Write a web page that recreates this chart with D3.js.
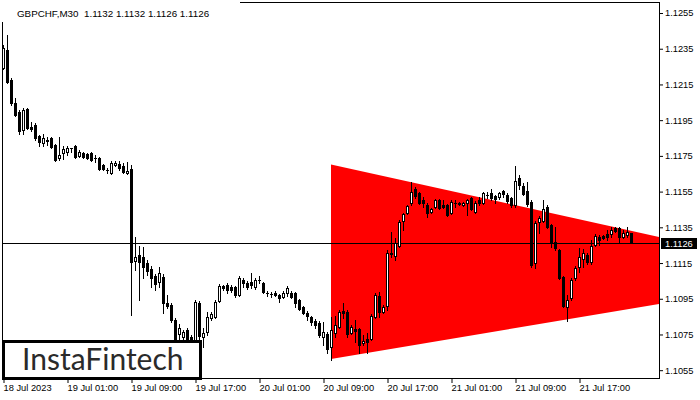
<!DOCTYPE html>
<html><head><meta charset="utf-8">
<script src="https://cdn.jsdelivr.net/npm/d3@7"></script>
<style>
body{margin:0;background:#fff;}
svg{display:block;font-family:"Liberation Sans",Arial,sans-serif;}
</style>
</head><body>
<svg id="c" width="700" height="400"></svg>
<script>
const symbol = "GBPCHF,M30";
const brand = "InstaFintech";
const timeLabels = ["18 Jul 2023","19 Jul 01:00","19 Jul 09:00","19 Jul 17:00","20 Jul 01:00","20 Jul 09:00","20 Jul 17:00","21 Jul 01:00","21 Jul 09:00","21 Jul 17:00"];
const labelBars = [0,16,32,48,64,80,96,112,128,144];
const priceTicks = [1.1055,1.1075,1.1095,1.1115,1.1135,1.1155,1.1175,1.1195,1.1215,1.1235,1.1255];

const opens = [
1.12242,1.12343,1.12175,1.12046,1.11996,1.11895,1.12013,1.11912,1.11923,1.11861,
1.11822,1.11839,1.11850,1.11811,1.11738,1.11766,1.11772,1.11794,1.11805,1.11749,
1.11766,1.11761,1.11766,1.11738,1.11738,1.11699,1.11671,1.11654,1.11699,1.11705,
1.11693,1.11654,1.11677,1.11161,1.11195,1.11184,1.11150,1.11117,1.11077,1.11044,
1.11072,1.10926,1.10915,1.10831,1.10753,1.10736,1.10775,1.10736,1.10691,1.10926,
1.10736,1.10764,1.10842,1.10848,1.10937,1.11021,1.11027,1.11016,1.11016,1.10971,
1.11055,1.11038,1.11044,1.11016,1.11055,1.11038,1.10982,1.10977,1.10982,1.10971,
1.10960,1.10982,1.10982,1.10982,1.10943,1.10904,1.10870,1.10848,1.10825,1.10814,
1.10736,1.10753,1.10680,1.10758,1.10792,1.10881,1.10876,1.10758,1.10781,1.10781,
1.10702,1.10725,1.10725,1.10848,1.10965,1.10876,1.10909,1.11206,1.11189,1.11245,
1.11385,1.11430,1.11486,1.11565,1.11542,1.11503,1.11475,1.11436,1.11464,1.11503,
1.11475,1.11475,1.11430,1.11486,1.11486,1.11475,1.11486,1.11514,1.11436,1.11503,
1.11486,1.11531,1.11542,1.11525,1.11520,1.11553,1.11531,1.11514,1.11475,1.11626,
1.11581,1.11553,1.11492,1.11150,1.11380,1.11385,1.11464,1.11363,1.11268,1.11223,
1.11072,1.10904,1.10954,1.11066,1.11128,1.11173,1.11195,1.11156,1.11251,1.11296,
1.11301,1.11313,1.11313,1.11346,1.11346,1.11296,1.11307,1.1132];
const highs = [
1.12371,1.12427,1.12186,1.12074,1.12007,1.12018,1.12018,1.11940,1.11934,1.11867,
1.11873,1.11856,1.11856,1.11817,1.11856,1.11805,1.11805,1.11794,1.11811,1.11783,
1.11772,1.11766,1.11772,1.11755,1.11744,1.11705,1.11682,1.11721,1.11721,1.11721,
1.11710,1.11716,1.11699,1.11296,1.11245,1.11240,1.11167,1.11133,1.11089,1.11128,
1.11089,1.10971,1.10926,1.10842,1.10809,1.10775,1.10786,1.10747,1.10943,1.10937,
1.10786,1.10876,1.10876,1.10943,1.11033,1.11027,1.11038,1.11027,1.11021,1.11077,
1.11066,1.11049,1.11094,1.11066,1.11077,1.11044,1.10993,1.10988,1.10993,1.10977,
1.10993,1.11021,1.10993,1.10988,1.10949,1.10909,1.10881,1.10853,1.10837,1.10825,
1.10820,1.10764,1.10848,1.10853,1.10887,1.10926,1.10887,1.10803,1.10831,1.10786,
1.10747,1.10758,1.10865,1.10982,1.10988,1.10915,1.11223,1.11324,1.11290,1.11391,
1.11430,1.11475,1.11604,1.11576,1.11548,1.11520,1.11486,1.11458,1.11509,1.11509,
1.11503,1.11481,1.11503,1.11503,1.11492,1.11492,1.11509,1.11520,1.11497,1.11520,
1.11548,1.11548,1.11565,1.11531,1.11548,1.11559,1.11542,1.11520,1.11693,1.11643,
1.11598,1.11604,1.11503,1.11385,1.11413,1.11503,1.11475,1.11369,1.11352,1.11229,
1.11077,1.10971,1.11066,1.11133,1.11234,1.11229,1.11206,1.11279,1.11313,1.11307,
1.11307,1.11335,1.11352,1.11352,1.11352,1.11335,1.11352,1.1132];
const lows = [
1.12237,1.12158,1.12035,1.11973,1.11873,1.11873,1.11901,1.11889,1.11839,1.11805,
1.11805,1.11811,1.11794,1.11721,1.11727,1.11733,1.11755,1.11772,1.11738,1.11744,
1.11738,1.11733,1.11721,1.11716,1.11671,1.11671,1.11654,1.11649,1.11693,1.11671,
1.11654,1.11649,1.10859,1.11111,1.10943,1.11066,1.11083,1.11016,1.10999,1.11016,
1.10870,1.10898,1.10820,1.10685,1.10708,1.10708,1.10674,1.10674,1.10663,1.10691,
1.10680,1.10747,1.10831,1.10842,1.10932,1.10999,1.10982,1.10988,1.10960,1.10965,
1.11016,1.11005,1.11010,1.11005,1.11038,1.10982,1.10965,1.10960,1.10965,1.10932,
1.10954,1.10965,1.10954,1.10904,1.10887,1.10865,1.10831,1.10803,1.10786,1.10736,
1.10691,1.10646,1.10607,1.10736,1.10786,1.10842,1.10736,1.10753,1.10708,1.10646,
1.10691,1.10646,1.10719,1.10842,1.10848,1.10870,1.10887,1.11184,1.11167,1.11240,
1.11335,1.11425,1.11475,1.11514,1.11481,1.11464,1.11408,1.11430,1.11458,1.11453,
1.11458,1.11413,1.11425,1.11464,1.11475,1.11469,1.11419,1.11447,1.11430,1.11475,
1.11481,1.11514,1.11503,1.11486,1.11509,1.11520,1.11486,1.11464,1.11464,1.11565,
1.11531,1.11469,1.11128,1.11122,1.11318,1.11380,1.11346,1.11240,1.11223,1.11061,
1.10904,1.10825,1.10943,1.11055,1.11100,1.11128,1.11145,1.11145,1.11245,1.11251,
1.11285,1.11279,1.11296,1.11324,1.11262,1.11290,1.11296,1.1126];
const closes = [
1.12354,1.12164,1.12046,1.11979,1.11889,1.12007,1.11906,1.11901,1.11850,1.11828,
1.11850,1.11836,1.11800,1.11727,1.11755,1.11789,1.11794,1.11794,1.11744,1.11772,
1.11744,1.11738,1.11727,1.11736,1.11677,1.11677,1.11669,1.11710,1.11710,1.11682,
1.11660,1.11665,1.11156,1.11184,1.11156,1.11128,1.11105,1.11066,1.11033,1.11094,
1.10926,1.10909,1.10831,1.10719,1.10786,1.10764,1.10719,1.10713,1.10932,1.10741,
1.10758,1.10848,1.10865,1.10932,1.11021,1.11010,1.10999,1.10999,1.10971,1.11066,
1.11038,1.11016,1.11027,1.11055,1.11053,1.10988,1.10980,1.10975,1.10971,1.10954,
1.10982,1.11010,1.10960,1.10926,1.10893,1.10870,1.10853,1.10820,1.10803,1.10747,
1.10764,1.10669,1.10775,1.10803,1.10876,1.10870,1.10753,1.10792,1.10769,1.10691,
1.10713,1.10708,1.10853,1.10971,1.10876,1.10904,1.11206,1.11203,1.11262,1.11380,
1.11425,1.11469,1.11548,1.11525,1.11486,1.11486,1.11430,1.11453,1.11503,1.11458,
1.11464,1.11419,1.11492,1.11484,1.11481,1.11486,1.11503,1.11453,1.11486,1.11486,
1.11542,1.11529,1.11514,1.11509,1.11542,1.11537,1.11497,1.11475,1.11609,1.11587,
1.11537,1.11481,1.11139,1.11374,1.11402,1.11453,1.11352,1.11262,1.11234,1.11066,
1.10909,1.10943,1.11055,1.11122,1.11184,1.11206,1.11156,1.11245,1.11301,1.11279,
1.11290,1.11296,1.11335,1.11329,1.11296,1.11318,1.11324,1.1126];

// triangle object anchors: bar index and price
const triangleBars = [82, 82, 207];
const trianglePrices = [1.11702, 1.10613, 1.11083];

const W = 700, H = 400;
const x = d3.scaleLinear().domain([0, 164]).range([3.5, 659.5]);
const y = d3.scaleLinear().domain([1.1055, 1.1255]).range([370.2, 13.0]);
const fmt = d3.format(".4f");
const n = opens.length;
const lastO = opens[n-1], lastH = highs[n-1], lastL = lows[n-1], lastC = closes[n-1];

const svg = d3.select("#c");
svg.append("rect").attr("width", W).attr("height", H).attr("fill", "#fff");

svg.append("defs").append("clipPath").attr("id", "plot")
  .append("rect").attr("x", 3).attr("y", 3).attr("width", 656).attr("height", 375);
const plot = svg.append("g").attr("clip-path", "url(#plot)");

// triangle
const tri = triangleBars.map((b, i) => [x(b) - 0.5, y(trianglePrices[i])]);
plot.append("polygon")
  .attr("points", tri.map(p => p.join(",")).join(" "))
  .attr("fill", "#ff0000");

// bid line
const yl = Math.round(y(lastC)) + 0.5;
plot.append("line").attr("x1", 3).attr("x2", 659).attr("y1", yl).attr("y2", yl)
  .attr("stroke", "#000").attr("stroke-width", 1);

// candles
const cg = plot.append("g").attr("shape-rendering", "crispEdges");
d3.range(n).forEach(i => {
  const cx = Math.floor(x(i)) + 0.5;
  const yh = Math.round(y(highs[i])), ylw = Math.round(y(lows[i]));
  cg.append("line").attr("x1", cx).attr("x2", cx).attr("y1", yh).attr("y2", ylw + 1)
    .attr("stroke", "#000");
  const yo = Math.round(y(opens[i])), yc = Math.round(y(closes[i]));
  const t = Math.min(yo, yc), b = Math.max(yo, yc);
  if (closes[i] > opens[i] && b - t >= 2) {
    cg.append("rect").attr("x", cx - 1).attr("y", t + 0.5).attr("width", 2).attr("height", b - t)
      .attr("fill", "#fff").attr("stroke", "#000").attr("stroke-width", 1);
  } else {
    cg.append("rect").attr("x", cx - 1.5).attr("y", t).attr("width", 3).attr("height", Math.max(1, b - t + 1))
      .attr("fill", "#000");
  }
});

// frame
svg.append("rect").attr("x", 2.5).attr("y", 2.5).attr("width", 657).attr("height", 376)
  .attr("fill", "none").attr("stroke", "#000").attr("shape-rendering", "crispEdges");

// y axis
const ya = svg.append("g").attr("transform", "translate(659,0)")
  .call(d3.axisRight(y).tickValues(priceTicks).tickSize(4).tickPadding(2).tickFormat(fmt));
ya.select(".domain").remove();
ya.selectAll("text").attr("font-size", 9.3).attr("font-family", "Liberation Sans, Arial, sans-serif").attr("fill", "#000");
ya.selectAll("line").attr("stroke", "#000");

// x axis
const xa = svg.append("g").attr("transform", "translate(0,379)")
  .call(d3.axisBottom(x).tickValues(labelBars).tickSize(4).tickPadding(1).tickFormat((d, i) => timeLabels[i]));
xa.select(".domain").remove();
xa.selectAll("text").attr("font-size", 9.3).attr("font-family", "Liberation Sans, Arial, sans-serif")
  .attr("text-anchor", "start").attr("x", -0.5).attr("fill", "#000");
xa.selectAll("line").attr("stroke", "#000");

// current price label
const py = y(lastC);
svg.append("rect").attr("x", 661).attr("y", Math.round(py) - 5).attr("width", 36).attr("height", 11).attr("fill", "#000");
svg.append("text").attr("x", 665).attr("y", py).attr("dy", "0.34em").attr("font-size", 9.3)
  .attr("fill", "#fff").text(fmt(lastC));

// header (with white backing as in the reference)
svg.append("rect").attr("x", 0).attr("y", 0).attr("width", 240).attr("height", 22).attr("fill", "#fff");
svg.append("text").attr("x", 17).attr("y", 16.5).attr("font-size", 9.8).attr("fill", "#000")
  .style("white-space", "pre")
  .text(symbol + "  " + [lastO, lastH, lastL, lastC].map(fmt).join(" "));

// logo
svg.append("rect").attr("x", 3.5).attr("y", 341.5).attr("width", 197).attr("height", 37)
  .attr("fill", "#fff").attr("stroke", "#000").attr("stroke-width", 3);
svg.append("text").attr("x", 22).attr("y", 370).attr("font-size", 30)
  .attr("font-family", "Lato, 'Open Sans', sans-serif").attr("fill", "#2a2a2a")
  .text(brand);
</script>
</body></html>
